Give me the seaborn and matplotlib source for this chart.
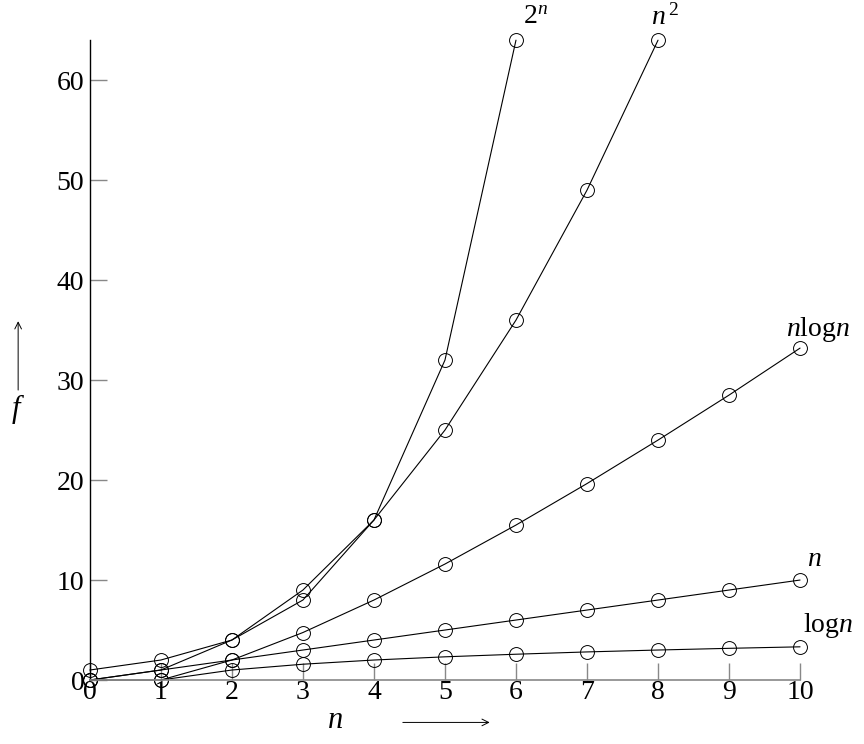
import numpy as np
import pandas as pd
import matplotlib
matplotlib.use("Agg")
import matplotlib.pyplot as plt
import seaborn as sns

# ---------- Data ----------
n_exp = [0, 1, 2, 3, 4, 5, 6]
f_exp = [1, 2, 4, 8, 16, 32, 64]

n_sq = [0, 1, 2, 3, 4, 5, 6, 7, 8]
f_sq = [0, 1, 4, 9, 16, 25, 36, 49, 64]

n_nlog = [0, 1, 2, 3, 4, 5, 6, 7, 8, 9, 10]
f_nlog = [0, 0, 2, 4.75, 8, 11.6, 15.5, 19.65, 24, 28.5, 33.2]

n_lin = [0, 1, 2, 3, 4, 5, 6, 7, 8, 9, 10]
f_lin = [0, 1, 2, 3, 4, 5, 6, 7, 8, 9, 10]

n_log = [1, 2, 3, 4, 5, 6, 7, 8, 9, 10]
f_log = [0, 1, 1.58, 2, 2.32, 2.58, 2.81, 3, 3.17, 3.32]

x_ticks = [0, 1, 2, 3, 4, 5, 6, 7, 8, 9, 10]
y_ticks = [0, 10, 20, 30, 40, 50, 60]

curve_labels = [r"$2^{n}$", r"$n^{\,2}$", r"$n\mathrm{log}n$", r"$n$", r"$\mathrm{log}n$"]
label_pos = [(6.27, 65.0), (8.1, 65.0), (10.25, 33.6), (10.2, 10.8), (10.4, 4.0)]

series = [(n_exp, f_exp), (n_sq, f_sq), (n_nlog, f_nlog), (n_lin, f_lin), (n_log, f_log)]

# ---------- Style ----------
sns.set_theme(style="white")
plt.rcParams["font.family"] = ["Liberation Serif", "DejaVu Serif"]
plt.rcParams["mathtext.fontset"] = "custom"
plt.rcParams["mathtext.it"] = "Liberation Serif:italic"
plt.rcParams["mathtext.rm"] = "Liberation Serif"
plt.rcParams["text.color"] = "black"
plt.rcParams["xtick.labelcolor"] = "black"
plt.rcParams["ytick.labelcolor"] = "black"

fig = plt.figure(figsize=(8.64, 7.44), dpi=100)
ax = fig.add_axes([0.104, 0.086, 0.822, 0.860])

for xs, ys in series:
    df = pd.DataFrame({"n": xs, "f": ys})
    sns.lineplot(data=df, x="n", y="f", ax=ax, color="black", linewidth=0.8,
                 marker="o", markersize=10, markerfacecolor="none",
                 markeredgecolor="black", markeredgewidth=0.7, sort=False,
                 clip_on=False)

ax.set_xlim(0, 10)
ax.set_ylim(0, 64)
ax.set_xticks(x_ticks)
ax.set_yticks(y_ticks)
ax.set_xticklabels([str(v) for v in x_ticks], fontsize=20, color="black")
ax.set_yticklabels([str(v) for v in y_ticks], fontsize=20, color="black")
ax.tick_params(axis="x", direction="in", length=12, width=1, color="#888888",
               pad=0, bottom=True)
ax.tick_params(axis="y", direction="in", length=12, width=1, color="#888888",
               pad=4, left=True)
ax.set_xlabel("")
ax.set_ylabel("")

sns.despine(ax=ax)
ax.spines["left"].set_color("black")
ax.spines["left"].set_linewidth(1)
ax.spines["bottom"].set_color("#888888")
ax.spines["bottom"].set_linewidth(1.2)

for txt, (lx, ly) in zip(curve_labels, label_pos):
    ax.text(lx, ly, txt, fontsize=20, ha="center", va="bottom", clip_on=False)

# axis labels with arrows
fig.text(0.021, 0.428, r"$f$", fontsize=22, ha="center", va="bottom")
fig.patches.append(matplotlib.patches.FancyArrowPatch(
    (0.021, 0.472), (0.021, 0.572), transform=fig.transFigure,
    arrowstyle="->", mutation_scale=12, color="black", linewidth=0.7))
fig.text(0.388, 0.012, r"$n$", fontsize=22, ha="center", va="bottom")
fig.patches.append(matplotlib.patches.FancyArrowPatch(
    (0.463, 0.029), (0.570, 0.029), transform=fig.transFigure,
    arrowstyle="->", mutation_scale=12, color="black", linewidth=0.7))

fig.savefig("out.png", dpi=100)
